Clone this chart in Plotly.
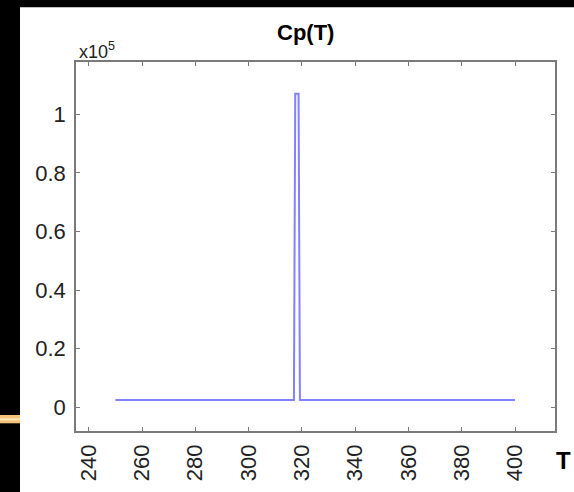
import plotly.graph_objects as go

# Data
T = [250, 317, 317.5, 318.75, 319.25, 400]
Cp = [2500, 2500, 107000, 107000, 2500, 2500]

x_ticks = [240, 260, 280, 300, 320, 340, 360, 380, 400]
y_ticks = [0, 20000, 40000, 60000, 80000, 100000]
y_tick_text = ["0", "0.2", "0.4", "0.6", "0.8", "1"]

W, H = 574, 492
L, R, TOP, B = 76, 555, 62, 431  # plot area in pixels


def px(x):
    return (x - L) / (R - L)


def py(y):
    return (B - y) / (B - TOP)


fig = go.Figure()
fig.add_trace(go.Scatter(x=T, y=Cp, mode="lines",
                         line=dict(color="#8282ff", width=2),
                         hoverinfo="skip", showlegend=False))

axis_common = dict(showgrid=False, zeroline=False, showline=True, mirror="ticks",
                   linecolor="#7a7a7a", linewidth=1.5, ticks="inside", ticklen=4,
                   tickcolor="#7a7a7a", tickwidth=1.2,
                   tickfont=dict(family="Liberation Sans, Arial, sans-serif",
                                 size=22, color="#222222"))

fig.update_layout(
    width=W, height=H,
    margin=dict(l=L, r=W - R, t=TOP, b=H - B, pad=0),
    paper_bgcolor="white", plot_bgcolor="white",
    xaxis=dict(range=[235.2, 415.0], tickvals=x_ticks, tickangle=-90,
               automargin=False, ticklabelstandoff=3, **axis_common),
    yaxis=dict(range=[-8100, 117850], tickvals=y_ticks, ticktext=y_tick_text,
               automargin=False, ticklabelstandoff=4, **axis_common),
    shapes=[
        dict(type="rect", xref="paper", yref="paper", x0=px(0), x1=px(W),
             y0=py(0), y1=py(7.3), fillcolor="black", line=dict(width=0), layer="above"),
        dict(type="rect", xref="paper", yref="paper", x0=px(0), x1=px(20),
             y0=py(0), y1=py(H), fillcolor="black", line=dict(width=0), layer="above"),
        dict(type="rect", xref="paper", yref="paper", x0=px(0), x1=px(20),
             y0=py(415), y1=py(423.3), fillcolor="#f4c27a", line=dict(width=0), layer="above"),
        dict(type="rect", xref="paper", yref="paper", x0=px(0), x1=px(20),
             y0=py(418.3), y1=py(420.3), fillcolor="#fde6b8", line=dict(width=0), layer="above"),
    ],
    annotations=[
        dict(text="<b>Cp(T)</b>", xref="paper", yref="paper", x=px(305), y=py(32),
             xanchor="center", yanchor="middle", showarrow=False,
             font=dict(family="Liberation Sans, Arial, sans-serif", size=22, color="black")),
        dict(text="x10<sup>5</sup>", xref="paper", yref="paper", x=px(77), y=py(64),
             xanchor="left", yanchor="bottom", showarrow=False,
             font=dict(family="Liberation Sans, Arial, sans-serif", size=18, color="#222222")),
        dict(text="<b>T</b>", xref="paper", yref="paper", x=px(563), y=py(460),
             xanchor="center", yanchor="middle", showarrow=False,
             font=dict(family="Liberation Sans, Arial, sans-serif", size=24, color="black")),
    ],
)

fig.write_html("out.html")
